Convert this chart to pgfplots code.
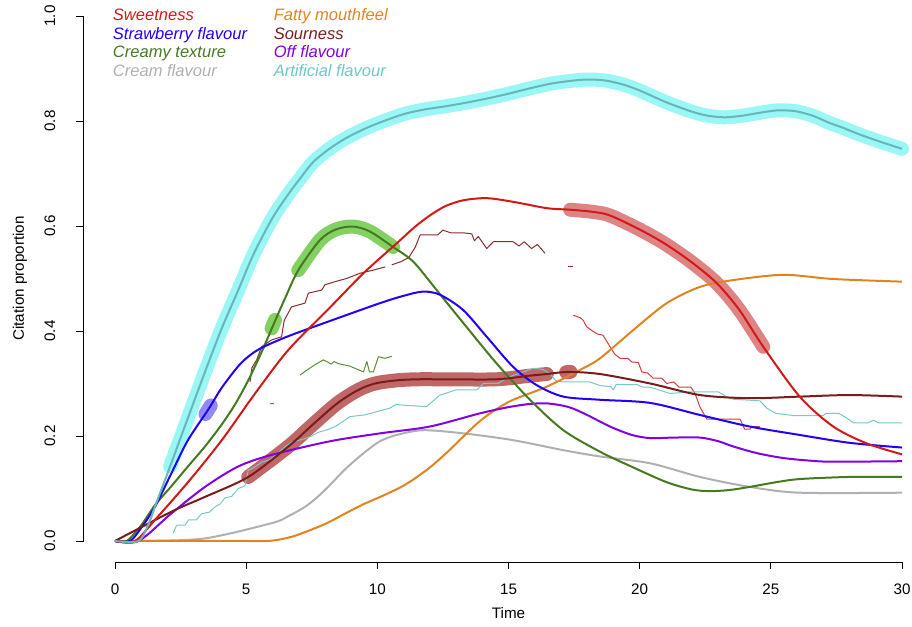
\documentclass[border=0pt]{standalone}
\usepackage{fontspec}
\setmainfont{Liberation Sans}
\usepackage{pgfplots}
\pgfplotsset{compat=1.18}
\definecolor{cSweet}{RGB}{212,24,24}
\definecolor{cStraw}{RGB}{34,0,255}
\definecolor{cCreamy}{RGB}{70,122,32}
\definecolor{cCream}{RGB}{176,176,176}
\definecolor{cFatty}{RGB}{224,132,32}
\definecolor{cSour}{RGB}{122,28,28}
\definecolor{cOff}{RGB}{130,0,232}
\definecolor{cArt}{RGB}{104,182,182}
\definecolor{cArtTxt}{RGB}{110,198,198}
\definecolor{hArt}{RGB}{150,246,246}
\definecolor{hSweet}{RGB}{200,50,50}
\definecolor{hSour}{RGB}{165,40,40}
\definecolor{hCreamy}{RGB}{118,204,82}
\definecolor{hStraw}{RGB}{70,60,240}
\definecolor{tSour}{RGB}{135,45,45}
\definecolor{tSweet}{RGB}{215,60,60}
\definecolor{tCreamy}{RGB}{90,140,60}
\definecolor{tArt}{RGB}{120,200,200}
\begin{document}
\begin{tikzpicture}
\begin{axis}[
  scale only axis, width=637.5pt, height=425.25pt,
  xmin=-1.2, xmax=31.2, ymin=-0.04, ymax=1.04,
  axis x line*=bottom, axis y line*=left,
  axis line style={draw=none},
  xtick={0,5,10,15,20,25,30},
  ytick={0,0.2,0.4,0.6,0.8,1},
  tick align=outside, major tick length=5.25pt,
  tick style={black, line width=0.6pt},
  /pgf/number format/assume math mode=true,
  ticklabel style={font=\fontsize{11.4}{13}\selectfont},
  x tick label style={anchor=north, inner sep=0pt, yshift=-11pt},
  y tick label style={rotate=90, anchor=south, inner sep=0pt, yshift=15.75pt,
     /pgf/number format/.cd, fixed, fixed zerofill, precision=1},
  xlabel={Time}, ylabel={Citation proportion},
  label style={font=\fontsize{11.4}{13}\selectfont},
  xlabel style={at={(axis description cs:0.5,-0.0899)}, anchor=center},
  ylabel style={at={(axis description cs:-0.0747,0.5)}, anchor=center},
  clip=false,
  every axis plot/.append style={line join=round},
]
% axis lines as in R (from first to last tick)
\draw[line width=0.6pt] (axis cs:0,-0.04) -- (axis cs:30,-0.04);
\draw[line width=0.6pt] (axis cs:-1.2,0) -- (axis cs:-1.2,1);

% ---------- highlights ----------
\addplot[hArt, line width=10.5pt, line cap=round, smooth, opacity=0.95] coordinates {
(2.1,0.142)(2.8,0.237)(3.43,0.322)(4.07,0.405)(4.7,0.478)(5.27,0.545)(6.0,0.615)(6.6,0.66)(7.05,0.69)(7.56,0.722)(8.2,0.748)(8.83,0.768)(9.6,0.787)(10.2,0.799)(11.0,0.813)(11.8,0.822)(12.6,0.828)(13.4,0.835)(14.2,0.843)(15.0,0.852)(15.8,0.862)(16.6,0.871)(17.3,0.876)(18.0,0.879)(18.7,0.877)(19.4,0.869)(20.05,0.857)(21.0,0.836)(21.98,0.818)(22.6,0.81)(23.25,0.807)(23.9,0.81)(24.5,0.815)(25.2,0.82)(25.9,0.819)(26.6,0.81)(27.2,0.797)(27.75,0.787)(28.4,0.774)(29.2,0.76)(30,0.747)};
\addplot[hSweet, line width=10.5pt, line cap=round, smooth, opacity=0.6] coordinates {
(17.35,0.631)(18.2,0.627)(18.87,0.62)(20.05,0.592)(21.0,0.565)(21.98,0.531)(22.94,0.491)(23.8,0.44)(24.71,0.37)};
\addplot[hSour, line width=10.5pt, line cap=round, smooth, opacity=0.7] coordinates {
(5.08,0.122)(6.61,0.18)(7.5,0.22)(8.39,0.259)(9.0,0.28)(9.5,0.293)(10.0,0.301)(10.74,0.306)(11.5,0.308)(12.64,0.308)(14.55,0.308)(15.82,0.315)(16.46,0.318)};
\addplot[hSour, line width=10.5pt, line cap=round, opacity=0.7] coordinates {(17.2,0.3215)(17.36,0.3222)};
\addplot[hCreamy, line width=10.5pt, line cap=round, smooth, opacity=0.9] coordinates {
(6.99,0.516)(7.81,0.573)(8.4,0.593)(9.05,0.599)(9.7,0.59)(10.6,0.56)};
\addplot[hCreamy, line width=10.5pt, line cap=round, opacity=0.9] coordinates {(5.97,0.405)(6.1,0.421)};
\addplot[hStraw, line width=10.5pt, line cap=round, opacity=0.6] coordinates {(3.45,0.242)(3.65,0.258)};

% ---------- thin jagged curves ----------
\addplot[tSour, line width=0.75pt] coordinates {
(5.15,0.303)(5.22,0.33)(5.4,0.345)(5.59,0.37)(5.97,0.383)(6.35,0.389)(6.45,0.42)(6.73,0.446)(7.24,0.453)(7.37,0.472)(7.88,0.478)(8.0,0.488)(8.39,0.494)(8.83,0.5)(9.34,0.51)(9.85,0.516)(10.3,0.522)};
\addplot[tSour, line width=0.75pt] coordinates {
(10.55,0.526)(10.9,0.532)(11.2,0.54)(11.45,0.56)(11.63,0.583)(12.3,0.583)(12.5,0.592)(12.8,0.587)(13.28,0.587)(13.6,0.585)(13.7,0.572)(13.85,0.58)(14.17,0.557)(14.42,0.57)(15.18,0.57)(15.4,0.562)(15.6,0.57)(15.88,0.557)(16.1,0.565)(16.39,0.548)};
\addplot[tSour, line width=0.75pt] coordinates {(17.25,0.522)(17.45,0.522)};
\addplot[tCreamy, line width=0.75pt] coordinates {
(7.05,0.316)(7.3,0.325)(7.6,0.335)(7.94,0.345)(8.25,0.337)(8.35,0.342)(8.5,0.338)(8.96,0.333)(9.47,0.322)(9.6,0.342)(9.7,0.322)(9.85,0.322)(10.04,0.351)(10.3,0.348)(10.55,0.352)};
\addplot[tCreamy, line width=0.75pt] coordinates {(5.9,0.262)(6.05,0.262)};
\addplot[tSweet, line width=0.75pt] coordinates {
(17.47,0.43)(17.75,0.425)(17.85,0.42)(17.98,0.408)(18.2,0.4)(18.4,0.394)(18.6,0.392)(18.75,0.38)(18.87,0.37)(19.05,0.356)(19.25,0.348)(19.55,0.348)(19.7,0.341)(19.95,0.34)(20.08,0.322)(20.3,0.32)(20.52,0.31)(20.85,0.31)(21.03,0.3)(21.3,0.303)(21.5,0.293)(21.95,0.293)(22.1,0.282)(22.3,0.255)(22.56,0.232)(23.83,0.232)(24.0,0.213)(24.2,0.213)(24.3,0.218)(24.59,0.218)};
\addplot[tArt, line width=0.75pt] coordinates {
(2.22,0.015)(2.35,0.03)(2.67,0.03)(2.8,0.04)(3.1,0.04)(3.3,0.052)(3.6,0.055)(3.81,0.065)(4.0,0.07)(4.19,0.082)(4.45,0.085)(4.7,0.1)(4.95,0.105)(5.02,0.12)(5.08,0.135)(5.3,0.14)(5.59,0.15)(5.9,0.155)(6.23,0.168)(6.5,0.18)(6.73,0.188)(7.24,0.195)(7.5,0.2)(7.75,0.207)(8.1,0.212)(8.39,0.218)(8.7,0.228)(8.96,0.237)(9.5,0.24)(10.1,0.248)(10.48,0.253)(10.7,0.26)(11.2,0.258)(11.88,0.256)(12.2,0.27)(12.39,0.278)(13.02,0.288)(13.8,0.288)(14.04,0.3)(14.6,0.3)(15.0,0.312)(15.56,0.322)(15.95,0.329)(16.3,0.327)(16.58,0.319)(16.8,0.305)(17.09,0.303)(18.1,0.303)(18.49,0.296)(18.9,0.294)(19.0,0.288)(19.1,0.298)(19.9,0.298)(20.1,0.293)(20.4,0.293)(21.16,0.281)(21.92,0.284)(23.0,0.284)(23.3,0.275)(23.57,0.27)(24.59,0.267)(24.84,0.253)(25.2,0.243)(25.86,0.239)(27.0,0.239)(27.1,0.243)(27.6,0.243)(27.9,0.234)(28.15,0.225)(28.7,0.225)(28.9,0.23)(29.1,0.225)(30,0.225)};

% ---------- main curves ----------
\addplot[cCream, line width=1.5pt, smooth] coordinates {
(0,0)(1,0)(3.43,0.005)(5.97,0.034)(6.6,0.047)(7.24,0.065)(7.7,0.083)(8.2,0.107)(8.8,0.138)(9.47,0.167)(10.1,0.19)(10.74,0.202)(11.75,0.211)(13.28,0.205)(15.18,0.192)(17.09,0.173)(18.49,0.161)(20.4,0.148)(22.3,0.122)(24.2,0.103)(26.1,0.092)(30,0.092)};
\addplot[cFatty, line width=1.5pt, smooth] coordinates {
(0,0)(5.0,0)(5.8,0)(6.3,0.003)(6.8,0.009)(7.3,0.018)(7.8,0.028)(8.2,0.037)(8.8,0.053)(9.47,0.07)(10.2,0.086)(10.87,0.102)(11.37,0.117)(12.0,0.14)(12.64,0.168)(13.3,0.2)(13.9,0.228)(14.5,0.25)(15.18,0.269)(16.46,0.294)(17.73,0.326)(18.49,0.348)(19.76,0.402)(21.03,0.453)(22.3,0.484)(23.57,0.497)(25.48,0.507)(27.38,0.499)(30,0.494)};
\addplot[cOff, line width=1.5pt, smooth] coordinates {
(0,0)(0.9,0)(2.16,0.053)(3.43,0.103)(4.7,0.142)(5.97,0.164)(8.2,0.19)(10.1,0.205)(12.0,0.218)(13.9,0.243)(15.0,0.255)(15.82,0.261)(16.5,0.262)(17.3,0.255)(18.0,0.24)(18.87,0.218)(19.7,0.202)(20.4,0.196)(21.3,0.197)(22.3,0.197)(23.0,0.19)(23.57,0.18)(24.5,0.167)(25.48,0.158)(26.5,0.153)(27.38,0.151)(30,0.152)};
\addplot[cCreamy, line width=1.5pt, smooth] coordinates {
(0,0)(0.45,0)(1.0,0.03)(1.52,0.068)(2.16,0.105)(2.78,0.142)(3.43,0.18)(4.07,0.222)(4.6,0.262)(5.1,0.308)(5.59,0.36)(6.04,0.412)(6.48,0.462)(6.99,0.516)(7.81,0.573)(8.4,0.593)(9.05,0.599)(9.7,0.59)(10.6,0.56)(11.37,0.532)(12.26,0.478)(13.28,0.415)(14.55,0.338)(15.82,0.269)(17.09,0.211)(18.49,0.17)(19.76,0.14)(21.03,0.112)(22.0,0.098)(22.68,0.095)(23.4,0.097)(24.2,0.103)(25.2,0.112)(26.1,0.118)(28.0,0.122)(30,0.122)};
\addplot[cStraw, line width=1.5pt, smooth] coordinates {
(0,0)(0.57,0)(1.0,0.025)(1.52,0.065)(2.16,0.13)(2.78,0.192)(3.55,0.25)(4.07,0.292)(4.7,0.333)(5.1,0.352)(5.59,0.368)(6.6,0.39)(8.3,0.421)(10.1,0.453)(11.0,0.467)(11.74,0.475)(12.39,0.469)(13.27,0.44)(14.17,0.389)(15.17,0.332)(16.07,0.297)(17.09,0.275)(18.49,0.269)(20.4,0.263)(22.3,0.24)(24.2,0.218)(26.1,0.202)(28.0,0.187)(30,0.178)};
\addplot[cSour, line width=1.5pt, smooth] coordinates {
(0,0)(2.16,0.056)(3.43,0.084)(5.08,0.122)(6.61,0.18)(7.5,0.22)(8.39,0.259)(9.0,0.28)(9.5,0.293)(10.0,0.301)(10.74,0.306)(11.5,0.308)(12.64,0.308)(14.55,0.308)(15.82,0.315)(16.46,0.318)(17.28,0.322)(18.49,0.318)(20.4,0.30)(22.3,0.278)(24.2,0.272)(26.1,0.275)(28.0,0.278)(30,0.275)};
\addplot[cSweet, line width=1.5pt, smooth] coordinates {
(0,0)(0.76,0)(1.52,0.04)(2.8,0.113)(4.07,0.192)(5.34,0.281)(6.61,0.364)(8.2,0.445)(9.47,0.51)(10.74,0.567)(11.4,0.597)(12.0,0.62)(12.6,0.638)(13.28,0.649)(14.17,0.653)(15.18,0.646)(16.46,0.634)(17.35,0.631)(18.2,0.627)(18.87,0.62)(20.05,0.592)(21.0,0.565)(21.98,0.531)(22.94,0.491)(23.8,0.44)(24.71,0.37)(26.1,0.275)(27.38,0.218)(28.65,0.186)(30,0.165)};
\addplot[cArt, line width=1.5pt, smooth] coordinates {
(0,0)(0.9,0)(1.3,0.035)(1.52,0.065)(2.1,0.142)(2.8,0.237)(3.43,0.322)(4.07,0.405)(4.7,0.478)(5.27,0.545)(6.0,0.615)(6.6,0.66)(7.05,0.69)(7.56,0.722)(8.2,0.748)(8.83,0.768)(9.6,0.787)(10.2,0.799)(11.0,0.813)(11.8,0.822)(12.6,0.828)(13.4,0.835)(14.2,0.843)(15.0,0.852)(15.8,0.862)(16.6,0.871)(17.3,0.876)(18.0,0.879)(18.7,0.877)(19.4,0.869)(20.05,0.857)(21.0,0.836)(21.98,0.818)(22.6,0.81)(23.25,0.807)(23.9,0.81)(24.5,0.815)(25.2,0.82)(25.9,0.819)(26.6,0.81)(27.2,0.797)(27.75,0.787)(28.4,0.774)(29.2,0.76)(30,0.747)};
\end{axis}
% legend (text only, as in the R plot)
\begin{scope}[every node/.style={anchor=base west, inner sep=0pt, font=\fontsize{12.4}{14}\selectfont\itshape}]
\node[text=cSweet]  at (21.9pt,406pt) {Sweetness};
\node[text=cStraw]  at (21.9pt,392pt) {Strawberry flavour};
\node[text=cCreamy] at (21.9pt,378pt) {Creamy texture};
\node[text=cCream]  at (21.9pt,364pt) {Cream flavour};
\node[text=cFatty]  at (142.5pt,406pt) {Fatty mouthfeel};
\node[text=cSour]   at (142.5pt,392pt) {Sourness};
\node[text=cOff]    at (142.5pt,378pt) {Off flavour};
\node[text=cArtTxt] at (142.5pt,364pt) {Artificial flavour};
\end{scope}
\pgfresetboundingbox
\path[use as bounding box] (-62.625pt,-48.75pt) rectangle (621.375pt,421.5pt);
\end{tikzpicture}
\end{document}
